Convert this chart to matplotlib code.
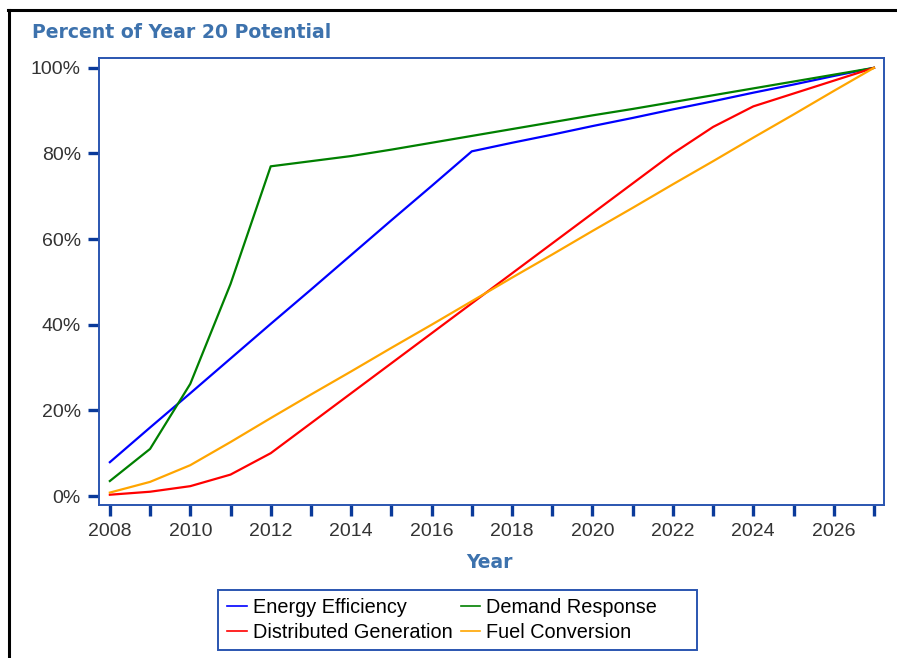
import matplotlib
matplotlib.use("Agg")
import matplotlib.pyplot as plt
from matplotlib.lines import Line2D
from matplotlib.patches import Rectangle
from matplotlib.ticker import FixedLocator, FuncFormatter

years = list(range(2008, 2028))

energy_efficiency = [7.9, 16.0, 24.0, 32.1, 40.2, 48.2, 56.3, 64.4, 72.4, 80.5,
                     82.5, 84.4, 86.4, 88.3, 90.3, 92.2, 94.2, 96.1, 98.1, 100.0]
demand_response = [3.5, 11.0, 26.2, 49.5, 77.0, 78.2, 79.4, 80.9, 82.5, 84.1,
                   85.7, 87.3, 88.9, 90.4, 92.0, 93.6, 95.2, 96.8, 98.4, 100.0]
distributed_generation = [0.3, 1.0, 2.3, 5.0, 10.0, 17.0, 24.0, 31.0, 38.0, 45.0,
                          52.0, 59.0, 66.0, 73.0, 80.0, 86.2, 91.0, 94.0, 97.0, 100.0]
fuel_conversion = [0.8, 3.3, 7.2, 12.6, 18.2, 23.7, 29.1, 34.6, 40.0, 45.5,
                   51.0, 56.4, 61.9, 67.3, 72.8, 78.2, 83.7, 89.1, 94.6, 100.0]

series_names = ["Energy Efficiency", "Demand Response",
                "Distributed Generation", "Fuel Conversion"]
series_values = [energy_efficiency, demand_response,
                 distributed_generation, fuel_conversion]
series_colors = ["#0000ff", "#008000", "#ff0000", "#ffa500"]

y_ticks = [0, 20, 40, 60, 80, 100]
x_labels = list(range(2008, 2027, 2))

plt.rcParams['font.family'] = ['Liberation Sans', 'DejaVu Sans']

W, H = 897, 658
fig = plt.figure(figsize=(W / 100, H / 100), dpi=100)

# outer black frame: only left and top edges show in the original
fig.add_artist(Line2D([9 / W, 9 / W], [-0.05, 1 - 10 / H], transform=fig.transFigure,
                      color="black", linewidth=2.2))
fig.add_artist(Line2D([8 / W, 1.05], [1 - 10 / H, 1 - 10 / H], transform=fig.transFigure,
                      color="black", linewidth=2.2))

ax = fig.add_axes([99 / W, 1 - 505 / H, (884 - 99) / W, (505 - 58) / H])

lines = {}
for name, vals, col in zip(series_names, series_values, series_colors):
    lines[name], = ax.plot(years, vals, color=col, linewidth=1.6, label=name)

ax.set_xlim(2007.73, 2027.25)
ax.set_ylim(-2.1, 102.3)

ax.xaxis.set_major_locator(FixedLocator(x_labels))
ax.xaxis.set_minor_locator(FixedLocator(years))
ax.set_yticks(y_ticks)
ax.yaxis.set_major_formatter(FuncFormatter(lambda v, p: "%d%%" % v))

tick_col = "#0a3a9a"
ax.tick_params(axis="both", which="both", direction="out", length=8, width=2.4,
               color=tick_col, labelsize=14, labelcolor="#333333", pad=5)
for s in ax.spines.values():
    s.set_color("#2a55b0")
    s.set_linewidth(1.4)

fig.text(32 / W, 1 - 33 / H, "Percent of Year 20 Potential", color="#3d72ad",
         fontsize=13.6, fontweight="bold", family="DejaVu Sans",
         ha="left", va="center")
fig.text(489 / W, 1 - 563 / H, "Year", color="#3d72ad", fontsize=13.5,
         fontweight="bold", family="DejaVu Sans", ha="center", va="center")

# legend box drawn separately (wider than its contents in the original)
fig.patches.append(Rectangle((218 / W, 1 - 650 / H), (697 - 218) / W, 60 / H,
                             transform=fig.transFigure, fill=False,
                             edgecolor="#2a55b0", linewidth=1.4))

# row-major order like the original (matplotlib fills columns first)
order = ["Energy Efficiency", "Distributed Generation",
         "Demand Response", "Fuel Conversion"]
leg = fig.legend([lines[n] for n in order], order, loc="upper left",
                 bbox_to_anchor=(227 / W, 1 - 598 / H), ncol=2,
                 fontsize=14.3, frameon=False, handlelength=1.0,
                 handletextpad=0.3, columnspacing=0.4, labelspacing=0.3,
                 borderpad=0, borderaxespad=0)
for line in leg.get_lines():
    line.set_linewidth(1.2)

fig.savefig("out.png", dpi=100)
